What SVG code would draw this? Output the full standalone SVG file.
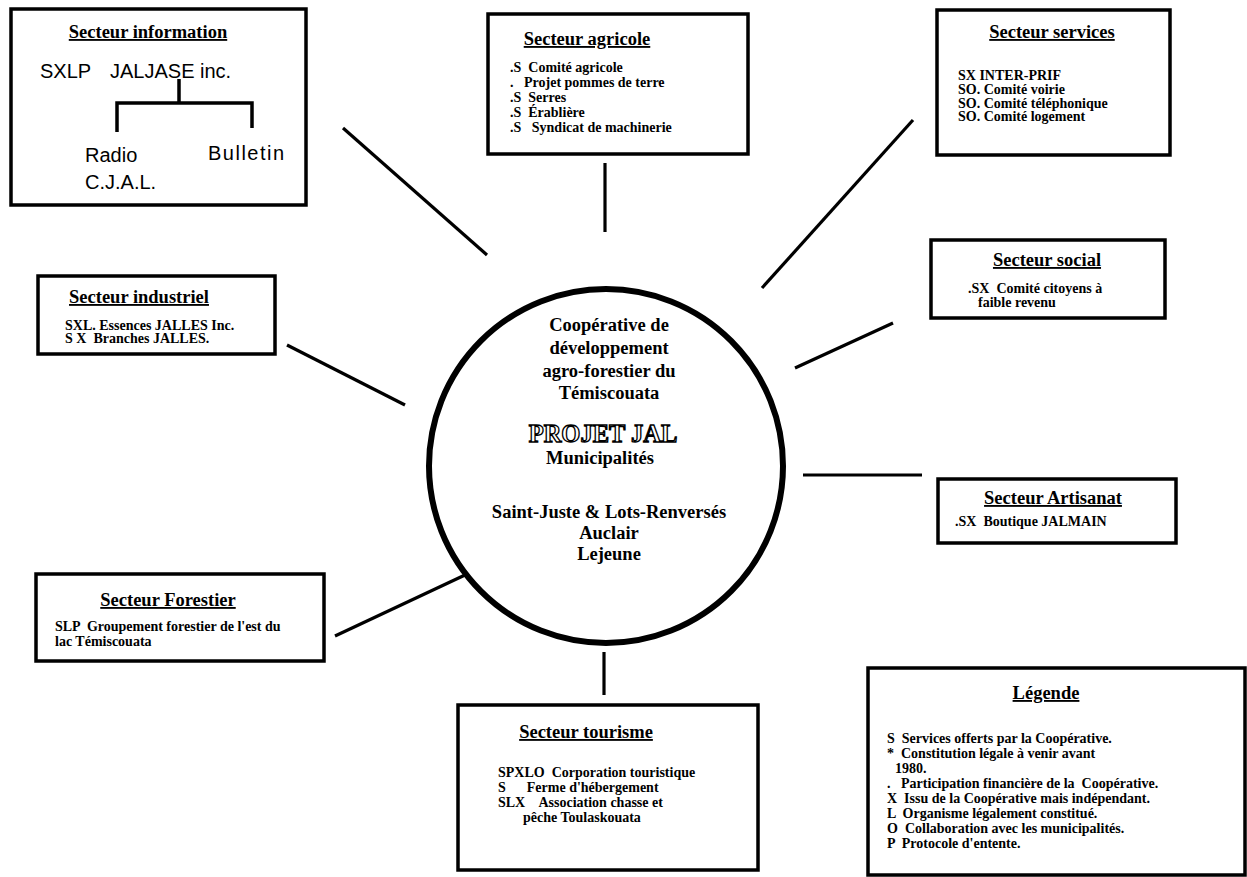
<svg xmlns="http://www.w3.org/2000/svg" width="1247" height="877" viewBox="0 0 1247 877" xml:space="preserve">
<style>
.box{fill:#fff;stroke:#000;stroke-width:3.5}
.t{font-family:"Liberation Serif",serif;font-weight:bold;font-size:18.5px;text-decoration:underline;text-anchor:middle}
.b{font-family:"Liberation Serif",serif;font-weight:bold;font-size:14px;white-space:pre}
.s{font-family:"Liberation Sans",Arial,sans-serif;font-size:20px}
.c{font-family:"Liberation Serif",serif;font-weight:bold;font-size:18.5px;text-anchor:middle}
.con{stroke:#000;stroke-width:3.2;fill:none}
</style>
<rect width="1247" height="877" fill="#fff"/>
<g id="connectors" class="con">
<line x1="343" y1="128" x2="487" y2="255"/>
<line x1="605" y1="163" x2="605" y2="232"/>
<line x1="913" y1="120" x2="762" y2="288"/>
<line x1="287" y1="345" x2="405" y2="405"/>
<line x1="893" y1="323" x2="795" y2="368"/>
<line x1="922" y1="475" x2="803" y2="475"/>
<line x1="335" y1="636" x2="465" y2="575"/>
<line x1="604" y1="652" x2="604" y2="695"/>
</g>
<g id="center">
<ellipse cx="606" cy="466" rx="177" ry="177" fill="#fff" stroke="#000" stroke-width="6"/>
<text class="c" x="609" y="331">Coopérative de</text>
<text class="c" x="609" y="354">développement</text>
<text class="c" x="609" y="377">agro-forestier du</text>
<text class="c" x="609" y="399">Témiscouata</text>
<text x="603" y="442" font-family="Liberation Serif,serif" font-weight="bold" font-size="24.5" text-anchor="middle" fill="#fff" stroke="#000" stroke-width="1.3">PROJET JAL</text>
<text class="c" x="600" y="464">Municipalités</text>
<text class="c" x="609" y="518">Saint-Juste &amp; Lots-Renversés</text>
<text class="c" x="609" y="539">Auclair</text>
<text class="c" x="609" y="560">Lejeune</text>
</g>
<g id="information">
<rect class="box" x="11" y="9" width="295" height="196"/>
<text class="t" x="148" y="38">Secteur information</text>
<text class="s" x="40" y="78">SXLP</text>
<text class="s" x="110" y="78">JALJASE inc.</text>
<path d="M179 79V103M117 132V103H252V128" stroke="#000" stroke-width="3.5" fill="none"/>
<text class="s" x="85" y="162">Radio</text>
<text class="s" x="85" y="189">C.J.A.L.</text>
<text class="s" x="208" y="160" letter-spacing="1.5">Bulletin</text>
</g>
<g id="agricole">
<rect class="box" x="488" y="14" width="260" height="140"/>
<text class="t" x="587" y="45">Secteur agricole</text>
<text class="b" x="510" y="72">.S  Comité agricole</text>
<text class="b" x="510" y="87">.   Projet pommes de terre</text>
<text class="b" x="510" y="102">.S  Serres</text>
<text class="b" x="510" y="117">.S  Érablière</text>
<text class="b" x="510" y="132">.S   Syndicat de machinerie</text>
</g>
<g id="services">
<rect class="box" x="937" y="10" width="233" height="145"/>
<text class="t" x="1052" y="38">Secteur services</text>
<text class="b" x="958" y="80">SX INTER-PRIF</text>
<text class="b" x="958" y="94">SO. Comité voirie</text>
<text class="b" x="958" y="108">SO. Comité téléphonique</text>
<text class="b" x="958" y="121">SO. Comité logement</text>
</g>
<g id="industriel">
<rect class="box" x="38" y="276" width="237" height="78"/>
<text class="t" x="139" y="303">Secteur industriel</text>
<text class="b" x="65" y="330">SXL. Essences JALLES Inc.</text>
<text class="b" x="65" y="343">S X  Branches JALLES.</text>
</g>
<g id="social">
<rect class="box" x="931" y="240" width="234" height="78"/>
<text class="t" x="1047" y="266">Secteur social</text>
<text class="b" x="968" y="293">.SX  Comité citoyens à</text>
<text class="b" x="978" y="307">faible revenu</text>
</g>
<g id="artisanat">
<rect class="box" x="938" y="479" width="238" height="64"/>
<text class="t" x="1053" y="504">Secteur Artisanat</text>
<text class="b" x="955" y="526">.SX  Boutique JALMAIN</text>
</g>
<g id="forestier">
<rect class="box" x="36" y="574" width="288" height="87"/>
<text class="t" x="168" y="606">Secteur Forestier</text>
<text class="b" x="55" y="631">SLP  Groupement forestier de l'est du</text>
<text class="b" x="55" y="646">lac Témiscouata</text>
</g>
<g id="tourisme">
<rect class="box" x="458" y="705" width="300" height="165"/>
<text class="t" x="586" y="738">Secteur tourisme</text>
<text class="b" x="498" y="777">SPXLO  Corporation touristique</text>
<text class="b" x="498" y="792">S      Ferme d'hébergement</text>
<text class="b" x="498" y="807">SLX    Association chasse et</text>
<text class="b" x="523" y="822">pêche Toulaskouata</text>
</g>
<g id="legende">
<rect class="box" x="868" y="668" width="377" height="207"/>
<text class="t" x="1046" y="699">Légende</text>
<text class="b" x="887" y="743">S  Services offerts par la Coopérative.</text>
<text class="b" x="887" y="758">*  Constitution légale à venir avant</text>
<text class="b" x="895" y="773">1980.</text>
<text class="b" x="887" y="788">.   Participation financière de la  Coopérative.</text>
<text class="b" x="887" y="803">X  Issu de la Coopérative mais indépendant.</text>
<text class="b" x="887" y="818">L  Organisme légalement constitué.</text>
<text class="b" x="887" y="833">O  Collaboration avec les municipalités.</text>
<text class="b" x="887" y="848">P  Protocole d'entente.</text>
</g>
</svg>
